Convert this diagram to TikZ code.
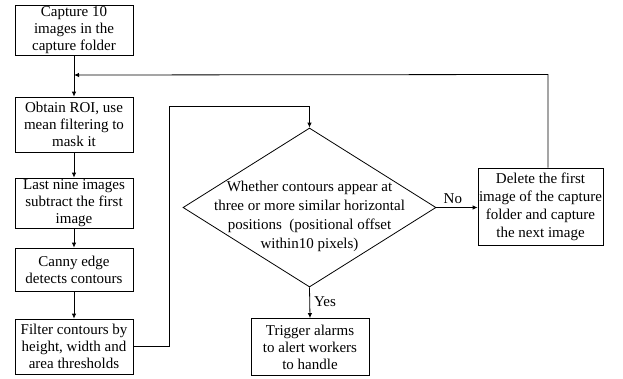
\documentclass[tikz,border=0pt]{standalone}
\usepackage{fontspec}
\setmainfont{Liberation Serif}
\usetikzlibrary{shapes.geometric,arrows.meta}
\begin{document}
\begin{tikzpicture}[x=1pt,y=-1pt,
  every node/.style={font=\fontsize{15}{17}\selectfont},
  box/.style={draw, line width=0.8pt, align=center, inner sep=1pt, minimum width=118pt},
  conn/.style={line width=0.8pt},
  arr/.style={line width=0.8pt, -{Latex[length=5pt,width=4.5pt]}},
  lbl/.style={inner sep=0pt}]
\useasboundingbox (0,0) rectangle (623,378);
\node[box, minimum height=50pt] (b1) at (74,30) {Capture 10\\images in the\\capture folder};
\node[box, minimum height=55pt] (b2) at (74,124.5) {Obtain ROI, use\\mean filtering to\\mask it};
\node[box, minimum height=50pt] (b3) at (74,203) {Last nine images\\subtract the first\\image};
\node[box, minimum height=43pt] (b4) at (74,269.5) {Canny edge\\detects contours};
\node[box, minimum height=55pt] (b5) at (74,346.5) {Filter contours by\\height, width and\\area thresholds};
\node[diamond, draw, line width=0.8pt, minimum width=253pt, minimum height=159pt, inner sep=0pt] (d) at (309.5,207.5) {};
\node[align=center, font=\fontsize{15}{19}\selectfont] (dt) at (309.5,216) {Whether contours appear at\\three or more similar horizontal\\positions\ \ (positional offset\\within10 pixels)};
\node[box, minimum height=57pt] (tr) at (310,347) {Trigger alarms\\to alert workers\\to handle};
\node[box, minimum width=125pt, minimum height=77pt, font=\fontsize{15}{18}\selectfont] (del) at (540.5,206.5) {Delete the first\\image of the capture\\folder and capture\\the next image};
\coordinate (m) at (74,75);
\coordinate (c1) at (169,346);
\coordinate (c2) at (169,106);
\coordinate (c3) at (309.5,106);
\coordinate (f1) at (548,74.5);
% connectors
\draw[conn] (b1.south) -- (m);
\draw[arr] (m) -- (b2.north);
\draw[arr] (b2.south) -- (b3.north);
\draw[arr] (b3.south) -- (b4.north);
\draw[arr] (b4.south) -- (b5.north);
\draw[arr] (b5.east |- c1) -- (c1) -- (c2) -- (c3) -- (d.north);
\draw[arr] (d.south) -- node[lbl, right=4pt, pos=0.45] {Yes} (tr.north);
\draw[arr] (d.east) -- node[lbl, above=3pt, pos=0.4] {No} (d.east -| del.west);
\draw[arr] (del.north -| f1) -- (f1) -- (m);
\end{tikzpicture}
\end{document}
